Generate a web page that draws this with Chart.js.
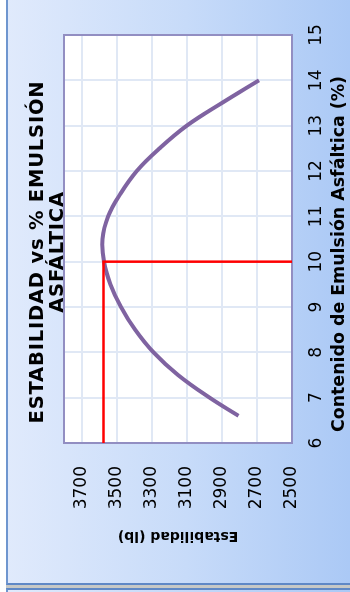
<!DOCTYPE html>
<html>
<head>
<meta charset="utf-8">
<title>Estabilidad vs % Emulsión Asfáltica</title>
<script src="https://cdn.jsdelivr.net/npm/chart.js@4.4.1/dist/chart.umd.min.js"></script>
<style>
  html, body { margin: 0; padding: 0; width: 350px; height: 592px; overflow: hidden; background: #ffffff; }
  #marco {
    position: absolute; left: 6px; top: -10px; width: 360px; height: 595px; box-sizing: border-box;
    border-left: 2px solid #6f96cf; border-bottom: 2px solid #5f88c6;
    background: linear-gradient(to right, #e0eafc 0%, #c7dbf9 50%, #a8c7f5 100%);
  }
  #sombra { position: absolute; left: 6px; top: 585px; width: 360px; height: 3px; background: #c6c8c6; }
  #siguiente {
    position: absolute; left: 6px; top: 588px; width: 360px; height: 20px; box-sizing: border-box;
    border-left: 2px solid #6f96cf; border-top: 2px solid #5f88c6;
    background: linear-gradient(to right, #e0eafc 0%, #a8c7f5 100%);
  }
  /* the chart is laid out landscape and turned a quarter turn to the left */
  #giro { position: absolute; left: 0; top: 0; width: 592px; height: 350px;
          transform-origin: 0 0; transform: translateY(592px) rotate(-90deg); }
  #grafico { display: block; }
</style>
</head>
<body>
<div id="marco"></div>
<div id="sombra"></div>
<div id="siguiente"></div>
<div id="giro"><canvas id="grafico" width="592" height="350"></canvas></div>
<script>
// Contenido de emulsión asfáltica (%) and the stability read at each content
const contenido   = [6.6, 7.0, 7.5, 8.0, 8.5, 9.0, 9.5, 10.0, 10.5, 11.0, 11.5, 12.0, 12.5, 13.0, 13.5, 14.0];
const estabilidad = [2805, 2970, 3150, 3290, 3395, 3475, 3535, 3572, 3580, 3548, 3478, 3385, 3255, 3100, 2900, 2688];

// Optimum content and the stability taken for it (red guide lines)
const optimoContenido   = 10;
const optimoEstabilidad = 3575;

// Axis ticks
const contenidoTicks   = [6, 7, 8, 9, 10, 11, 12, 13, 14, 15];
const estabilidadTicks = [2500, 2700, 2900, 3100, 3300, 3500, 3700];
const contenidoMin = 6, contenidoMax = 15;
const estabilidadMin = 2500, estabilidadMax = 3800;

// Texts
const tituloLineas      = ['ESTABILIDAD vs % EMULSIÓN', 'ASFÁLTICA'];
const tituloContenido   = 'Contenido de Emulsión Asfáltica (%)';
const tituloEstabilidad = 'Estabilidad (lb)';

const curva = contenido.map((c, i) => ({ x: c, y: estabilidad[i] }));
const guia = [
  { x: contenidoMin, y: optimoEstabilidad },
  { x: optimoContenido, y: optimoEstabilidad },
  { x: optimoContenido, y: estabilidadMin }
];

const gridColor = '#e0e8f5';

// White plot area, purple frame around it and the free-standing titles
const adornos = {
  id: 'adornos',
  beforeDraw(chart) {
    const { ctx, chartArea: a } = chart;
    ctx.save();
    ctx.fillStyle = '#ffffff';
    ctx.fillRect(a.left, a.top, a.right - a.left, a.bottom - a.top);
    ctx.restore();
  },
  beforeDatasetsDraw(chart) {
    const { ctx, chartArea: a } = chart;
    ctx.save();
    ctx.strokeStyle = '#928ec2';
    ctx.lineWidth = 2;
    ctx.strokeRect(a.left, a.top, a.right - a.left, a.bottom - a.top);
    ctx.restore();
  },
  afterDraw(chart) {
    const { ctx, chartArea: a } = chart;
    const centro = (a.left + a.right) / 2;
    ctx.save();
    ctx.fillStyle = '#000000';
    ctx.textAlign = 'center';
    ctx.textBaseline = 'alphabetic';
    ctx.font = 'bold 19.5px "DejaVu Sans"';
    if ('letterSpacing' in ctx) ctx.letterSpacing = '0.8px';
    tituloLineas.forEach((t, i) => ctx.fillText(t, centro - 13, 43 + i * 19.5));
    if ('letterSpacing' in ctx) ctx.letterSpacing = '0px';
    ctx.font = 'bold 17.4px "DejaVu Sans"';
    ctx.fillText(tituloContenido, centro - 15, a.bottom + 52);
    ctx.restore();
  }
};

new Chart(document.getElementById('grafico'), {
  type: 'line',
  data: {
    datasets: [
      {
        data: guia,
        borderColor: '#ff0000',
        borderWidth: 2.5,
        tension: 0,
        pointRadius: 0,
        fill: false
      },
      {
        data: curva,
        borderColor: '#7f63a1',
        borderWidth: 4,
        tension: 0.4,
        pointRadius: 0,
        fill: false
      }
    ]
  },
  options: {
    responsive: false,
    devicePixelRatio: 1,
    animation: false,
    layout: { padding: { left: 0, right: 35, top: 64, bottom: 0 } },
    plugins: { legend: { display: false }, tooltip: { enabled: false }, title: { display: false } },
    scales: {
      x: {
        type: 'linear',
        min: contenidoMin,
        max: contenidoMax,
        afterBuildTicks: s => { s.ticks = contenidoTicks.map(v => ({ value: v })); },
        afterFit: s => { s.height = 58; },
        grid: { color: gridColor, lineWidth: 2, drawTicks: false },
        border: { display: false },
        ticks: {
          padding: 14, color: '#000000', font: { family: 'DejaVu Sans', size: 17 },
          callback: v => String(v)
        },
        title: { display: false }
      },
      y: {
        type: 'linear',
        min: estabilidadMin,
        max: estabilidadMax,
        afterBuildTicks: s => { s.ticks = estabilidadTicks.map(v => ({ value: v })); },
        afterFit: s => { s.width = 149; },
        grid: { color: gridColor, lineWidth: 2, drawTicks: false },
        border: { display: false },
        ticks: {
          padding: 23, color: '#000000', font: { family: 'DejaVu Sans', size: 17 },
          callback: v => String(v)
        },
        title: {
          display: true,
          text: tituloEstabilidad,
          color: '#000000',
          font: { family: 'DejaVu Sans', weight: 'bold', size: 14 },
          padding: { top: 48, bottom: 0 }
        }
      }
    }
  },
  plugins: [adornos]
});
</script>
</body>
</html>
